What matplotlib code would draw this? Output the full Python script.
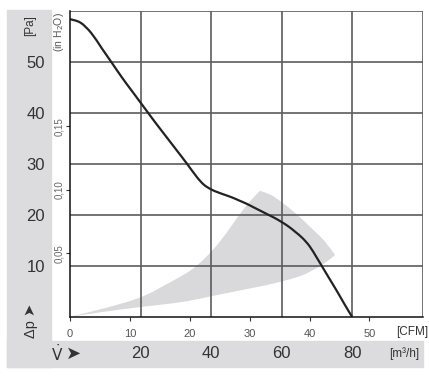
import numpy as np
import matplotlib
matplotlib.use("Agg")
import matplotlib.pyplot as plt
from matplotlib.patches import Rectangle, PathPatch
from matplotlib.path import Path

plt.rcParams['font.family'] = ['Liberation Sans', 'DejaVu Sans']
plt.rcParams['mathtext.fontset'] = 'dejavusans'

W, H = 429, 378

# fan curve, flow in m3/h, pressure in Pa
flow = [0, 3, 6, 9, 12, 15, 18, 21, 24, 27, 30, 33, 36, 38, 40, 42, 44, 46,
        48, 50, 52, 54, 56, 58, 60, 62, 64, 66, 68, 70, 72, 74, 76, 78, 80]
pressure = [58.4, 57.7, 55.7, 52.7, 49.7, 46.7, 43.9, 41.1, 38.3, 35.6, 32.9,
            30.2, 27.4, 25.9, 25.0, 24.4, 23.9, 23.4, 22.8, 22.2, 21.5, 20.8,
            20.1, 19.4, 18.6, 17.7, 16.6, 15.4, 13.8, 11.6, 9.3, 7.0, 4.7,
            2.3, 0.0]

# grey operating range
upper_x = [0, 10, 20, 28, 34, 38, 42, 46, 50, 53.9]
upper_y = [0, 1.7, 3.8, 6.6, 9.0, 11.3, 14.3, 18.0, 21.8, 24.7]
arc_x = [57, 60, 64, 68, 72, 75.2]
arc_y = [23.9, 22.5, 20.3, 17.7, 15.0, 12.1]
lower_x = [72, 68, 65, 60, 55, 50, 45, 40, 35, 30, 20, 10, 0]
lower_y = [10.4, 8.8, 7.9, 6.9, 6.1, 5.4, 4.7, 4.0, 3.3, 2.7, 1.9, 1.0, 0]

pa_ticks = [0, 10, 20, 30, 40, 50, 60]
pa_labels = ['', '10', '20', '30', '40', '50', '']
m3h_grid = [0, 20, 40, 60, 80, 100]
m3h_labels = [20, 40, 60, 80]
cfm_values = [0, 10, 20, 30, 40, 50]
inh2o_values = [0.05, 0.10, 0.15]
inh2o_labels = ['0,05', '0,10', '0,15']

CFM_TO_M3H = 1.699
INH2O_TO_PA = 249.09


def smooth_path(xs, ys):
    # catmull-rom through the points, drawn as bezier segments
    p = np.column_stack([xs, ys]).astype(float)
    verts = [p[0]]
    codes = [Path.MOVETO]
    n = len(p)
    for i in range(n - 1):
        p0 = p[i - 1] if i > 0 else p[i]
        p1, p2 = p[i], p[i + 1]
        p3 = p[i + 2] if i + 2 < n else p[i + 1]
        verts += [p1 + (p2 - p0) / 6, p2 - (p3 - p1) / 6, p2]
        codes += [Path.CURVE4] * 3
    return verts, codes


fig = plt.figure(figsize=(W / 100, H / 100), dpi=100)
band = '#dcdcde'
fig.patches.append(Rectangle((7 / W, 11 / H), 44 / W, 357 / H,
                             transform=fig.transFigure, color=band, zorder=-5))
fig.patches.append(Rectangle((7 / W, 11 / H), 416 / W, 26 / H,
                             transform=fig.transFigure, color=band, zorder=-5))

ax = fig.add_axes([70 / W, (H - 316.7) / H, 352.5 / W, 305.7 / H])
ax.set_zorder(2)
ax.set_xlim(0, 100)
ax.set_ylim(0, 60)

# operating range: upper edge to the peak, arc, lower edge back to 0
vu, cu = smooth_path(upper_x, upper_y)
va, ca = smooth_path(upper_x[-1:] + arc_x, upper_y[-1:] + arc_y)
vl, cl = smooth_path(arc_x[-1:] + lower_x, arc_y[-1:] + lower_y)
verts = vu + va[1:] + vl[1:] + [vu[0]]
codes = cu + ca[1:] + cl[1:] + [Path.CLOSEPOLY]
ax.add_patch(PathPatch(Path(verts, codes), facecolor='#d9d9db',
                       edgecolor='none', zorder=1))

gridc = '#5c5c5c'
for g in m3h_grid[1:]:
    ax.axvline(g, color=gridc, lw=1.2, zorder=2)
for p in pa_ticks[1:]:
    ax.axhline(p, color=gridc, lw=1.2, zorder=2)

cv, cc = smooth_path(flow, pressure)
ax.add_patch(PathPatch(Path(cv, cc), facecolor='none', edgecolor='#222222',
                       lw=1.6, zorder=3))

for s in ['top', 'right']:
    ax.spines[s].set_visible(False)
for s in ['left', 'bottom']:
    ax.spines[s].set_color('#111111')
    ax.spines[s].set_linewidth(1.1)
    ax.spines[s].set_zorder(4)

ax.set_yticks(pa_ticks, pa_labels)
ax.tick_params(axis='y', which='major', length=0, pad=18, labelsize=12,
               labelcolor='#333333')
ax.set_yticks([v * INH2O_TO_PA for v in inh2o_values], minor=True)
ax.tick_params(axis='y', which='minor', length=3, width=0.8, direction='out',
               color='#333333')

ax.set_xticks([c * CFM_TO_M3H for c in cfm_values],
              [str(c) for c in cfm_values])
ax.tick_params(axis='x', which='major', length=3, width=0.8, direction='out',
               pad=6, labelsize=8, labelcolor='#555555', color='#333333')
ax.set_xticks([], minor=True)

for v, lab in zip(inh2o_values, inh2o_labels):
    ax.text(-0.032, v * INH2O_TO_PA, lab, transform=ax.get_yaxis_transform(),
            rotation=90, ha='center', va='center', fontsize=7, color='#666666')

for m in m3h_labels:
    ax.text(m, (316.7 - 354) / 305.7, str(m), transform=ax.get_xaxis_transform(),
            ha='center', va='center', fontsize=12, color='#333333', clip_on=False)


def ftext(x, y, s, **kw):
    fig.text(x / W, 1 - y / H, s, **kw)


ftext(412, 332, '[CFM]', ha='center', va='center', fontsize=8.5, color='#333333')
ftext(404, 354, '[m³/h]', ha='center', va='center', fontsize=8.5, color='#333333')
ftext(30.5, 26, '[Pa]', rotation=90, ha='center', va='center', fontsize=8.5,
      color='#333333')
ftext(59, 32, '(in H$_2$O)', rotation=90, ha='center', va='center', fontsize=7.5,
      color='#555555')
ftext(31, 321, 'Δp ➤', rotation=90, ha='center', va='center', fontsize=10.5,
      color='#333333')
ftext(57, 354, r'$\dot{\mathrm{V}}$', ha='center', va='center', fontsize=11,
      color='#333333')
ftext(74, 354, '➤', ha='center', va='center', fontsize=13, color='#333333',
      family='DejaVu Sans')

fig.savefig('out.png', dpi=100)
